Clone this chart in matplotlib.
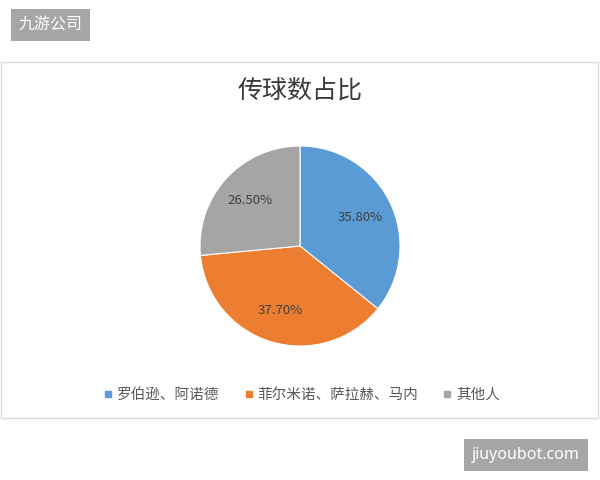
import matplotlib.pyplot as plt
from matplotlib.lines import Line2D
from matplotlib.patches import Rectangle

plt.rcParams['font.family'] = ['Noto Sans CJK SC', 'DejaVu Sans']

# data
labels = ['罗伯逊、阿诺德', '菲尔米诺、萨拉赫、马内', '其他人']
shares = [35.8, 37.7, 26.5]
colors = ['#5b9bd5', '#ed7d31', '#a5a5a5']

W, H = 600, 480
fig = plt.figure(figsize=(W / 100, H / 100), dpi=100)
fig.patch.set_facecolor('white')

# chart frame
fig.patches.append(Rectangle((1 / W, 1 - 418 / H), 597 / W, 356 / H,
                             transform=fig.transFigure, fill=False,
                             edgecolor='#d9d9d9', lw=1.0))

fig.text(300 / W, 1 - 91 / H, '传球数占比', ha='center', va='center',
         fontsize=18, color='#3a3a3a', fontweight='medium')

# pie: centre (300, 246), radius 100 px
ax = fig.add_axes([200 / W, 1 - 346 / H, 200 / W, 200 / H])
wedges, _, autotexts = ax.pie(
    shares, colors=colors, startangle=90, counterclock=False,
    autopct=lambda p: f'{p:.2f}%', pctdistance=0.67,
    wedgeprops=dict(edgecolor='white', linewidth=0.8),
    textprops=dict(color='#404040', fontsize=9.5))
ax.set_xlim(-1, 1)
ax.set_ylim(-1, 1)
ax.set_aspect('equal')
ax.axis('off')

handles = [Line2D([], [], marker='s', linestyle='none', markersize=5,
                  markerfacecolor=c, markeredgecolor=c) for c in colors]
fig.legend(handles, labels, loc='center', bbox_to_anchor=(302 / W, 1 - 395 / H),
           ncol=3, frameon=False, fontsize=10.5, labelcolor='#595959',
           handlelength=0.6, handletextpad=0.3, columnspacing=1.7)

# watermarks
fig.text(50.5 / W, 1 - 25 / H, '九游公司', ha='center', va='center',
         fontsize=11.5, color='white',
         bbox=dict(boxstyle='square,pad=0.5', facecolor='#a6a6a6', edgecolor='none'))
fig.text(526 / W, 1 - 455 / H, 'jiuyoubot.com', ha='center', va='center',
         fontsize=11.5, color='white', family=['Noto Sans', 'DejaVu Sans'],
         bbox=dict(boxstyle='square,pad=0.5', facecolor='#a6a6a6', edgecolor='none'))

fig.savefig('out.png', dpi=100)
